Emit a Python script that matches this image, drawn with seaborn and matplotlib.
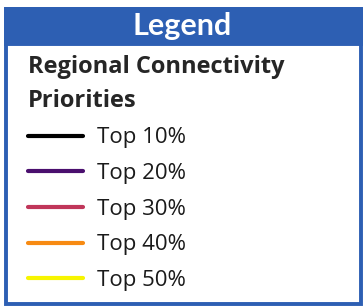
import matplotlib.pyplot as plt
import seaborn as sns
from matplotlib.lines import Line2D
from matplotlib.patches import Rectangle

# legend content
header = "Legend"
legend_title = "Regional Connectivity\nPriorities"
categories = ["Top 10%", "Top 20%", "Top 30%", "Top 40%", "Top 50%"]
line_colors = ["#000000", "#4a0f6e", "#c0365a", "#f78a12", "#f7f500"]

sns.set_style("white")
plt.rcParams['font.family'] = ['Open Sans', 'DejaVu Sans']

W, H = 364, 307
fig = plt.figure(figsize=(W / 100, H / 100), dpi=100)
ax = fig.add_axes([0, 0, 1, 1])
ax.set_xlim(0, W)
ax.set_ylim(H, 0)
ax.axis('off')

blue = "#2d5fb3"
# outer frame and header band
ax.add_patch(Rectangle((6, 9), 355, 295, facecolor='white', edgecolor=blue, lw=2.8))
ax.add_patch(Rectangle((6, 9), 355, 35, facecolor=blue, edgecolor=blue, lw=2.8))
ax.text(182, 26, header, color='white', fontsize=22, fontweight='bold',
        ha='center', va='center', family=['Lato', 'DejaVu Sans'])

palette = sns.color_palette(line_colors)
handles = [Line2D([], [], color=c, lw=3, solid_capstyle='round') for c in palette]
leg = ax.legend(handles, categories, title=legend_title, loc='upper left',
                bbox_to_anchor=(10 / W, 1 - 37 / H), frameon=False,
                fontsize=16, title_fontproperties={'weight': 'bold', 'size': 17},
                alignment='left', handlelength=2.5, handletextpad=0.6,
                labelspacing=0.66, borderpad=0.3)
leg.get_title().set_linespacing(1.55)
for t in leg.get_texts():
    t.set_color('#1a1a1a')

fig.savefig('out.png', dpi=100)
